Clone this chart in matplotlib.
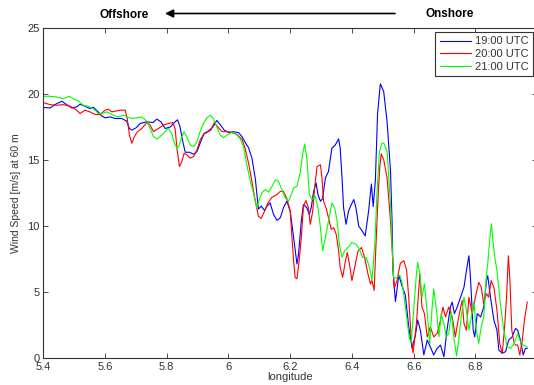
import matplotlib.pyplot as plt
from matplotlib.ticker import FormatStrFormatter

plt.rcParams['font.family'] = ['Liberation Sans', 'DejaVu Sans']

# 19:00 UTC
lon_19 = [5.400, 5.422, 5.443, 5.460, 5.476, 5.492, 5.508, 5.519, 5.535, 5.551,
          5.562, 5.578, 5.589, 5.600, 5.616, 5.633, 5.654, 5.670, 5.679, 5.687,
          5.701, 5.714, 5.735, 5.755, 5.768, 5.781, 5.795, 5.811, 5.827, 5.835,
          5.843, 5.852, 5.860, 5.874, 5.887, 5.898, 5.908, 5.921, 5.935, 5.950,
          5.962, 5.973, 5.986, 6.000, 6.016, 6.033, 6.044, 6.054, 6.065, 6.076,
          6.087, 6.097, 6.106, 6.117, 6.125, 6.135, 6.146, 6.157, 6.168, 6.178,
          6.189, 6.200, 6.211, 6.222, 6.227, 6.236, 6.243, 6.254, 6.262, 6.268,
          6.276, 6.284, 6.290, 6.298, 6.305, 6.314, 6.324, 6.335, 6.346, 6.357,
          6.362, 6.368, 6.373, 6.381, 6.389, 6.398, 6.406, 6.413, 6.422, 6.433,
          6.443, 6.454, 6.463, 6.469, 6.476, 6.483, 6.492, 6.503, 6.514, 6.525,
          6.530, 6.533, 6.541, 6.552, 6.562, 6.573, 6.584, 6.595, 6.606, 6.613,
          6.622, 6.633, 6.644, 6.654, 6.665, 6.676, 6.687, 6.698, 6.708, 6.719,
          6.725, 6.732, 6.741, 6.752, 6.763, 6.771, 6.779, 6.784, 6.793, 6.798,
          6.806, 6.817, 6.827, 6.836, 6.840, 6.849, 6.860, 6.870, 6.876, 6.887,
          6.898, 6.908, 6.919, 6.930, 6.937, 6.946, 6.955, 6.962, 6.968]
ws_19 = [19.0, 18.97, 19.29, 19.47, 19.22, 18.97, 19.05, 19.25, 19.1, 18.92,
         19.02, 18.67, 18.37, 18.22, 18.29, 18.17, 18.17, 17.97, 17.41, 17.29,
         17.47, 17.79, 17.92, 17.86, 18.12, 17.92, 17.41, 17.52, 17.92, 18.07,
         17.54, 16.41, 15.61, 15.61, 15.46, 15.66, 16.29, 17.04, 17.22, 17.54,
         18.02, 17.71, 17.29, 17.11, 17.17, 17.09, 16.79, 16.36, 15.96, 15.16,
         13.6, 11.3, 11.53, 11.2, 11.53, 11.77, 10.9, 10.45, 10.65, 11.4,
         11.9, 11.15, 9.14, 7.14, 7.89, 10.4, 11.65, 11.4, 10.9, 11.4,
         12.65, 13.28, 12.4, 11.9, 12.1, 13.65, 14.16, 15.91, 16.16, 16.62,
         15.91, 13.65, 11.4, 10.15, 11.15, 11.65, 12.03, 11.4, 10.02, 9.65,
         9.27, 11.15, 13.2, 11.5, 13.5, 18.5, 20.8, 20.2, 17.9, 14.2,
         10.4, 6.6, 4.3, 6.3, 5.5, 4.8, 2.4, 0.75, 1.8, 2.9,
         2.1, 0.25, 1.38, 0.87, 0.25, 0.75, 1.0, 0.12, 2.13, 3.88,
         4.26, 3.38, 3.88, 4.63, 5.38, 6.64, 7.77, 6.14, 2.13, 1.62,
         3.38, 3.13, 3.88, 5.89, 6.26, 4.63, 2.88, 2.13, 0.62, 0.38,
         0.5, 1.38, 1.62, 2.26, 2.13, 1.38, 0.25, 0.75, 0.75]

# 20:00 UTC
lon_20 = [5.400, 5.422, 5.443, 5.465, 5.487, 5.508, 5.519, 5.535, 5.551, 5.568,
          5.584, 5.600, 5.611, 5.622, 5.633, 5.649, 5.665, 5.672, 5.679, 5.687,
          5.695, 5.705, 5.719, 5.735, 5.746, 5.757, 5.773, 5.789, 5.805, 5.820,
          5.827, 5.833, 5.841, 5.849, 5.856, 5.865, 5.876, 5.887, 5.898, 5.908,
          5.919, 5.930, 5.943, 5.954, 5.965, 5.979, 5.995, 6.011, 6.027, 6.044,
          6.054, 6.065, 6.076, 6.087, 6.097, 6.106, 6.117, 6.128, 6.141, 6.157,
          6.168, 6.178, 6.189, 6.200, 6.206, 6.211, 6.216, 6.222, 6.229, 6.236,
          6.243, 6.251, 6.259, 6.265, 6.273, 6.279, 6.287, 6.298, 6.303, 6.308,
          6.316, 6.324, 6.333, 6.341, 6.349, 6.357, 6.362, 6.370, 6.379, 6.385,
          6.392, 6.400, 6.409, 6.420, 6.431, 6.441, 6.452, 6.460, 6.465, 6.472,
          6.478, 6.485, 6.490, 6.495, 6.503, 6.514, 6.525, 6.533, 6.537, 6.546,
          6.557, 6.568, 6.577, 6.584, 6.592, 6.598, 6.609, 6.620, 6.627, 6.635,
          6.644, 6.654, 6.665, 6.676, 6.687, 6.695, 6.703, 6.714, 6.725, 6.735,
          6.746, 6.757, 6.763, 6.771, 6.779, 6.790, 6.800, 6.811, 6.819, 6.827,
          6.836, 6.843, 6.851, 6.860, 6.870, 6.879, 6.887, 6.894, 6.901, 6.907,
          6.912, 6.918, 6.926, 6.930, 6.937, 6.944, 6.952, 6.959, 6.968]
ws_20 = [19.37, 19.22, 19.17, 19.22, 19.1, 18.8, 18.54, 18.8, 18.67, 18.47,
         18.47, 18.8, 18.87, 18.67, 18.72, 18.8, 18.8, 18.17, 16.92, 16.29,
         16.79, 17.17, 17.41, 17.86, 17.67, 17.17, 17.41, 17.67, 17.79, 17.86,
         17.41, 15.91, 14.53, 14.91, 15.53, 15.41, 15.16, 15.29, 15.79, 16.54,
         16.96, 17.11, 17.29, 17.86, 17.54, 17.17, 17.17, 17.11, 16.96, 16.6,
         15.9, 14.8, 13.4, 11.9, 10.77, 10.6, 11.15, 11.77, 12.2, 12.4,
         12.65, 12.65, 12.1, 11.15, 9.14, 7.39, 6.14, 6.02, 7.39, 9.14,
         11.53, 11.95, 11.4, 10.15, 11.15, 12.9, 14.53, 14.66, 13.65, 11.9,
         11.4, 10.65, 9.77, 9.9, 9.4, 8.14, 6.89, 6.14, 7.39, 8.02,
         7.14, 5.89, 6.89, 8.14, 8.39, 7.64, 6.39, 5.64, 5.89, 5.14,
         8.65, 12.4, 14.41, 15.5, 15.04, 13.65, 10.4, 7.14, 5.3, 5.9,
         7.2, 7.39, 6.7, 4.63, 1.5, 0.4, 2.63, 6.39, 3.88, 3.38,
         1.62, 2.38, 1.62, 1.88, 2.88, 3.88, 3.13, 3.88, 3.13, 1.62,
         3.13, 4.38, 2.63, 2.13, 4.63, 3.38, 4.63, 5.76, 5.38, 4.14,
         4.89, 4.63, 5.89, 5.38, 3.63, 1.13, 0.38, 2.13, 4.63, 7.77,
         5.89, 2.13, 1.13, 1.0, 1.0, 0.25, 1.38, 2.88, 4.26]

# 21:00 UTC
lon_21 = [5.400, 5.422, 5.443, 5.465, 5.484, 5.497, 5.514, 5.530, 5.551, 5.568,
          5.578, 5.589, 5.606, 5.616, 5.627, 5.643, 5.660, 5.672, 5.687, 5.703,
          5.719, 5.735, 5.746, 5.757, 5.768, 5.778, 5.789, 5.805, 5.816, 5.825,
          5.833, 5.841, 5.849, 5.856, 5.865, 5.876, 5.887, 5.898, 5.908, 5.919,
          5.930, 5.941, 5.951, 5.962, 5.973, 5.984, 5.995, 6.011, 6.027, 6.038,
          6.049, 6.060, 6.070, 6.081, 6.092, 6.100, 6.108, 6.119, 6.130, 6.141,
          6.152, 6.162, 6.173, 6.184, 6.195, 6.203, 6.211, 6.222, 6.233, 6.240,
          6.247, 6.254, 6.262, 6.271, 6.281, 6.290, 6.298, 6.305, 6.314, 6.324,
          6.335, 6.344, 6.352, 6.359, 6.368, 6.376, 6.387, 6.400, 6.413, 6.424,
          6.435, 6.446, 6.457, 6.465, 6.474, 6.481, 6.489, 6.497, 6.503, 6.514,
          6.525, 6.530, 6.535, 6.546, 6.555, 6.562, 6.568, 6.577, 6.586, 6.592,
          6.600, 6.609, 6.613, 6.620, 6.627, 6.635, 6.644, 6.652, 6.660, 6.665,
          6.674, 6.682, 6.689, 6.698, 6.706, 6.714, 6.722, 6.730, 6.739, 6.746,
          6.754, 6.763, 6.771, 6.779, 6.787, 6.795, 6.803, 6.811, 6.819, 6.827,
          6.836, 6.840, 6.847, 6.852, 6.857, 6.863, 6.870, 6.881, 6.892, 6.903,
          6.914, 6.926, 6.937, 6.944, 6.955, 6.968]
ws_21 = [19.85, 19.85, 19.8, 19.67, 19.85, 19.67, 19.47, 19.17, 19.05, 18.8,
         18.54, 18.54, 18.67, 18.54, 18.42, 18.29, 18.42, 18.29, 18.17, 18.22,
         18.29, 17.97, 17.41, 16.79, 16.62, 16.79, 17.04, 17.41, 17.04, 16.29,
         15.91, 16.16, 16.79, 17.17, 16.79, 16.16, 16.04, 16.41, 17.17, 17.79,
         18.22, 18.42, 18.17, 17.54, 16.92, 16.71, 16.92, 17.11, 16.92, 16.62,
         16.0, 14.6, 13.5, 12.53, 11.4, 12.03, 12.53, 12.78, 12.6, 13.03,
         13.53, 13.41, 12.78, 12.15, 11.9, 12.4, 12.9, 13.03, 14.16, 15.41,
         16.24, 15.16, 12.4, 12.03, 12.28, 11.4, 9.9, 8.14, 9.14, 10.4,
         11.77, 11.4, 10.4, 8.65, 7.64, 8.14, 8.39, 8.77, 8.65, 8.27,
         7.64, 7.64, 6.89, 5.89, 8.65, 12.4, 15.66, 16.29, 16.3, 15.66,
         11.65, 8.65, 6.1, 6.1, 6.3, 5.8, 4.8, 3.2, 1.5, 1.2,
         3.63, 6.39, 7.26, 6.39, 4.63, 5.64, 3.38, 1.13, 3.88, 5.26,
         3.63, 1.62, 3.38, 2.63, 1.62, 1.88, 3.51, 1.62, 0.17, 1.38,
         3.13, 4.63, 3.63, 2.13, 3.13, 4.26, 2.13, 1.13, 2.38, 3.13,
         6.39, 7.14, 9.14, 10.2, 8.89, 7.64, 6.64, 4.14, 2.13, 0.87,
         0.75, 1.13, 1.88, 1.38, 1.0, 0.87]

labels = ['19:00 UTC', '20:00 UTC', '21:00 UTC']
colors = ['#0000ff', '#ff0000', '#00ff00']
xticks = [5.4, 5.6, 5.8, 6.0, 6.2, 6.4, 6.6, 6.8]
yticks = [0, 5, 10, 15, 20, 25]

fig = plt.figure(figsize=(5.34, 3.85), dpi=100)
ax = fig.add_axes([0.0811, 0.0694, 0.9247, 0.857])

ax.plot(lon_19, ws_19, color=colors[0], lw=0.8, label=labels[0])
ax.plot(lon_20, ws_20, color=colors[1], lw=0.8, label=labels[1])
ax.plot(lon_21, ws_21, color=colors[2], lw=0.8, label=labels[2])

ax.set_xlim(5.4, 7.0)
ax.set_ylim(0, 25)
ax.set_xticks(xticks)
ax.set_yticks(yticks)
ax.xaxis.set_major_formatter(FormatStrFormatter('%g'))
ax.tick_params(direction='in', top=True, right=True, length=3.5, width=0.6,
               labelsize=8, colors='#333333', pad=2.5)
for s in ax.spines.values():
    s.set_color('#333333')
    s.set_linewidth(0.8)

ax.set_xlabel('longitude', fontsize=8, color='#333333', labelpad=0)
ax.set_ylabel('Wind Speed [m/s] at 60 m', fontsize=7.5, color='#333333', labelpad=5)

leg = ax.legend(loc='upper right', bbox_to_anchor=(533 / 534, 1 - 32 / 385),
                bbox_transform=fig.transFigure, borderaxespad=0, fontsize=8,
                fancybox=False, framealpha=1, edgecolor='#333333',
                handlelength=2.8, handletextpad=0.35, labelspacing=0.25,
                borderpad=0.4)
leg.get_frame().set_linewidth(0.8)
for t in leg.get_texts():
    t.set_color('#333333')

# direction arrow above the axes
fig.text(124 / 534, 1 - 15 / 385, 'Offshore', ha='center', va='center',
         fontsize=8.5, fontweight='bold')
fig.text(450 / 534, 1 - 14 / 385, 'Onshore', ha='center', va='center',
         fontsize=8.5, fontweight='bold')
ax.annotate('', xy=(165 / 534, 1 - 13.5 / 385), xycoords='figure fraction',
            xytext=(395 / 534, 1 - 13.5 / 385), textcoords='figure fraction',
            arrowprops=dict(arrowstyle='-|>', color='black', lw=1.2,
                            mutation_scale=12, shrinkA=0, shrinkB=0))

plt.savefig('out.png', dpi=100)
